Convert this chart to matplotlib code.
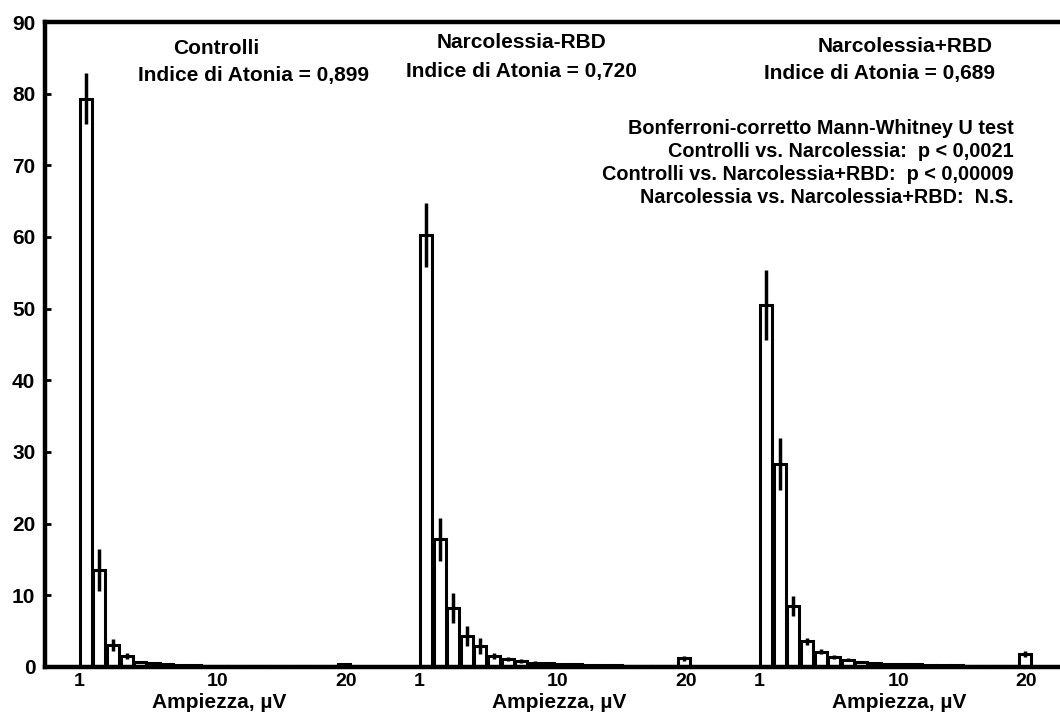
import numpy as np
import matplotlib
matplotlib.use("Agg")
import matplotlib.pyplot as plt

plt.rcParams['font.family'] = ['Liberation Sans', 'DejaVu Sans']
plt.rcParams['font.weight'] = 'bold'

# amplitude bins 1..20 uV, % of mini-epochs
bins = list(range(1, 21))
groups = ["Controlli", "Narcolessia-RBD", "Narcolessia+RBD"]
atonia = ["0,899", "0,720", "0,689"]

controlli = [79.3, 13.5, 3.1, 1.5, 0.7, 0.5, 0.35, 0.3, 0.25, 0.2,
             0.18, 0.15, 0.13, 0.12, 0.1, 0.1, 0.08, 0.08, 0.07, 0.35]
controlli_err = [3.6, 2.9, 0.8, 0.4, 0.2, 0.15, 0.1, 0.08, 0.07, 0.06,
                 0.05, 0.05, 0.04, 0.04, 0.03, 0.03, 0.03, 0.03, 0.03, 0.15]
narc_norbd = [60.3, 17.8, 8.2, 4.3, 2.9, 1.5, 1.1, 0.8, 0.6, 0.5,
              0.4, 0.35, 0.3, 0.25, 0.22, 0.2, 0.18, 0.16, 0.15, 1.2]
narc_norbd_err = [4.5, 3.0, 2.1, 1.4, 1.1, 0.4, 0.3, 0.25, 0.2, 0.15,
                  0.12, 0.1, 0.1, 0.08, 0.08, 0.07, 0.06, 0.06, 0.05, 0.3]
narc_rbd = [50.5, 28.3, 8.5, 3.6, 2.1, 1.4, 1.0, 0.75, 0.6, 0.45,
            0.4, 0.35, 0.3, 0.25, 0.22, 0.2, 0.18, 0.15, 0.15, 1.8]
narc_rbd_err = [4.9, 3.6, 1.4, 0.5, 0.35, 0.25, 0.2, 0.15, 0.12, 0.1,
                0.08, 0.08, 0.07, 0.06, 0.05, 0.05, 0.05, 0.04, 0.04, 0.4]

series = [controlli, narc_norbd, narc_rbd]
errors = [controlli_err, narc_norbd_err, narc_rbd_err]

tick_bins = ["1", "10", "20"]
tick_offsets = [-0.5, 9.7, 19.1]
gap = 25

stats = ["Bonferroni-corretto Mann-Whitney U test",
         "Controlli vs. Narcolessia:  p < 0,0021",
         "Controlli vs. Narcolessia+RBD:  p < 0,00009",
         "Narcolessia vs. Narcolessia+RBD:  N.S."]

fig = plt.figure(figsize=(10.6, 7.13), dpi=100)
ax = fig.add_axes([45/1060, 1-667/713, 1-45/1060, (667-22)/713])

for g in range(3):
    x = np.arange(20) + g*gap
    ax.bar(x, series[g], width=0.88, color='white', edgecolor='black',
           linewidth=2.2, zorder=2)
    ax.errorbar(x, series[g], yerr=errors[g], fmt='none', ecolor='black',
                elinewidth=2.5, capsize=0, zorder=3)

ax.set_xlim(-3.0, 71.6)
ax.set_ylim(0, 90)
ax.set_yticks(range(0, 91, 10))

xt = []
xl = []
for g in range(3):
    for lab, off in zip(tick_bins, tick_offsets):
        xt.append(g*gap + off)
        xl.append(lab)
ax.set_xticks(xt)
ax.set_xticklabels(xl)
ax.tick_params(axis='x', length=0, pad=4, labelsize=14)
ax.tick_params(axis='y', direction='in', length=4, width=2, pad=7, labelsize=15)

for s in ['left', 'bottom', 'top']:
    ax.spines[s].set_linewidth(3.2)
ax.spines['right'].set_visible(False)

for g in range(3):
    fig.text((86 + 13.6*(g*gap + 9.8))/1060, 1-712/713, "Ampiezza, µV",
             ha='center', va='bottom', fontsize=15, fontweight='bold')

# titles (pixel positions from layout)
title_pos = [((216, 48), (254, 75)), ((521, 43), (521, 72)), ((905, 47), (880, 73))]
for g in range(3):
    (x1, y1), (x2, y2) = title_pos[g]
    fig.text(x1/1060, 1-y1/713, groups[g], ha='center', va='center',
             fontsize=15, fontweight='bold')
    fig.text(x2/1060, 1-y2/713, "Indice di Atonia = " + atonia[g], ha='center',
             va='center', fontsize=15, fontweight='bold')

for i, line in enumerate(stats):
    fig.text(1014/1060, 1-(129+22.7*i)/713, line, ha='right', va='center',
             fontsize=14.3, fontweight='bold')

fig.savefig("out.png", dpi=100)
